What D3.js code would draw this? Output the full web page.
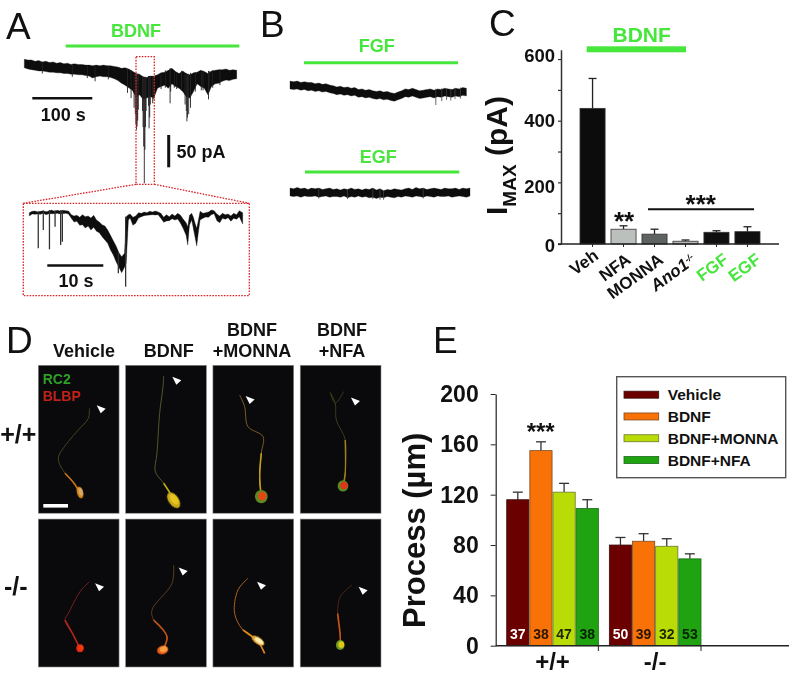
<!DOCTYPE html>
<html>
<head>
<meta charset="utf-8">
<script src="https://cdn.jsdelivr.net/npm/d3@7"></script>
<style>
  body { margin: 0; background: #fff; }
  svg { filter: blur(0.3px); }
  text { font-family: "Liberation Sans", Arial, sans-serif; font-weight: bold; }
</style>
</head>
<body>
<svg id="fig"></svg>
<script>
// panel A, main trace (seconds, pA from start of trace)
const traceATime = [0,6,12,18,24,30,36,42,48,54,60,66,72,78,84,90,96,102,108,114,120,126,132,138,144,150,156,162,168,174,180,186,192,198,204,210,216,222,228,234,240,246,252,258,264,270,276,282,288,294,300,306,312,318,324,330,336,342,348,354];
const traceATop = [0,-1,-1,-3,-2,-4,-3,-5,-4,-6,-5,-7,-6,-8,-7,-8,-8,-9,-9,-10,-9,-10,-9,-10,-10,-11,-12,-14,-13,-15,-18,-22,-23,-27,-28,-26,-26,-24,-21,-20,-17,-14,-19,-22,-18,-22,-24,-21,-20,-17,-19,-22,-18,-17,-16,-16,-15,-17,-16,-17];
const traceABottom = [-13,-15,-16,-17,-18,-18,-19,-20,-20,-21,-21,-22,-22,-23,-23,-24,-24,-25,-26,-29,-27,-26,-27,-27,-28,-30,-33,-37,-40,-44,-48,-58,-55,-62,-60,-58,-60,-45,-42,-40,-45,-38,-42,-45,-50,-58,-60,-50,-38,-42,-45,-55,-42,-38,-37,-34,-32,-33,-31,-30];
const spikesATime = [30,80,105,118,140,172,178,183,185,186,187,188,189,190,197,198,199,200,201,202,203,207,208,209,210,214,216,228,235,243,244,250,254,262,268,270,271,272,274,277,285,295,298,307,308,314,326];
const spikesADepth = [-22,-27,-29,-34,-31,-52,-60,-75,-85,-100,-109,-104,-95,-78,-80,-105,-135,-192,-140,-105,-80,-72,-107,-90,-70,-68,-62,-46,-44,-68,-50,-44,-46,-48,-70,-80,-96,-90,-85,-75,-50,-48,-48,-62,-50,-44,-40];

// panel A, inset (seconds, pA)
const insetTime = [0,0.5,1,1.5,2,2.5,3,3.5,4,4.5,5,5.5,6,6.5,7,7.5,8,8.5,9,9.5,10,10.5,11,11.5,12,12.5,13,13.5,14,14.5,15,15.5,16,16.5,17,17.3,17.7,18,18.5,19,19.5,20,20.5,21,21.5,22,22.5,23,23.5,24,24.5,25,25.5,26,26.5,27,27.5,28,28.3,28.6,29,29.3,29.6,29.9,30.2,30.5,31,31.5,32,32.5,33,33.5,34,34.5,35,35.5,36,36.5,37,37.5,38.1];
const insetTop = [-8,-4,-3,-6,-4,-2,-5,-3,0,-4,-1,-3,-1,-2,-3,-14,-18,-16,-22,-14,-20,-18,-24,-16,-30,-36,-44,-48,-60,-76,-92,-108,-128,-140,-130,-20,-14,-12,-22,-18,-8,-10,-6,-8,-4,-6,-3,-6,-10,-22,-14,-20,-12,-18,-10,-16,-28,-38,-50,-16,-10,-22,-40,-55,-30,-4,-10,-8,-6,0,-2,-12,-18,-10,-14,-12,-18,-10,-14,-2,-8];
const insetBottom = [-18,-12,-13,-12,-13,-10,-14,-11,-11,-11,-10,-12,-11,-10,-12,-25,-36,-34,-46,-44,-54,-48,-60,-52,-64,-68,-80,-90,-100,-120,-135,-155,-172,-188,-172,-160,-30,-24,-46,-40,-24,-20,-17,-16,-15,-14,-15,-14,-25,-37,-33,-32,-26,-30,-27,-40,-56,-76,-105,-46,-30,-56,-82,-108,-66,-30,-25,-21,-22,-14,-11,-32,-38,-25,-28,-23,-34,-25,-28,-20,-42];
const insetSpikeTime = [1.6,2.5,3.6,4.6,5.6,5.9,15.9,17.2];
const insetSpikeDepth = [-115,-60,-118,-50,-105,-95,-190,-230];

// panel B traces
const traceFgfTime = [0,6,12,18,24,30,36,42,48,54,60,66,72,78,84,90,96,102,108,114,120,126,132,138,144,150,156,162,168,174,180,186,192,198,204,210,216,222,228,234,240,246,252,258,264,270,276,282,288,294];
const traceFgfTop = [6,5,6,4,5,4,4,2,3,1,2,0,-1,-3,-2,-4,-3,-5,-4,-7,-6,-8,-7,-9,-10,-9,-11,-10,-12,-13,-11,-9,-6,-7,-5,-7,-9,-8,-7,-6,-8,-6,-7,-5,-6,-7,-5,-6,-4,-5];
const traceFgfBottom = [-6,-7,-6,-8,-7,-9,-8,-10,-9,-11,-10,-12,-13,-15,-14,-16,-15,-17,-16,-19,-18,-20,-19,-21,-22,-21,-23,-22,-24,-25,-23,-21,-18,-19,-17,-19,-21,-20,-19,-18,-20,-18,-19,-17,-18,-19,-17,-18,-16,-17];
const spikesFgfTime = [243,253,261,268,275,284];
const spikesFgfDepth = [-31,-25,-23,-24,-22,-21];
const traceEgfTime = [0,6,12,18,24,30,36,42,48,54,60,66,72,78,84,90,96,102,108,114,120,126,132,138,144,150,156,162,168,174,180,186,192,198,204,210,216,222,228,234,240,246,252,258,264,270,276,282,288,294,300];
const traceEgfTop = [6,5,7,5,6,4,6,5,6,4,5,6,4,5,3,5,4,6,4,5,3,5,4,6,3,5,2,4,3,5,4,3,5,6,4,7,5,6,4,5,6,5,4,6,5,5,6,4,6,5,6];
const traceEgfBottom = [-6,-7,-6,-8,-6,-7,-7,-6,-8,-7,-6,-8,-7,-7,-8,-6,-9,-7,-8,-6,-8,-7,-9,-8,-10,-8,-9,-7,-8,-9,-7,-8,-6,-7,-8,-6,-7,-8,-6,-7,-8,-6,-7,-7,-6,-8,-7,-6,-7,-8,-6];
const spikesEgfTime = [48,96,138,150,156,222];
const spikesEgfDepth = [-10,-11,-11,-12,-12,-10];

// panel C
const drugs = ["Veh", "NFA", "MONNA", "Ano1", "FGF", "EGF"];
const imaxMean = [440, 48, 32, 9, 38, 40];
const imaxTop = [537, 59, 48, 13, 43, 56];
const imaxColors = ["#0c0c0c", "#bcc0bc", "#5e6260", "#b4b7b4", "#101010", "#101010"];
const imaxTicks = [0, 100, 200, 300, 400, 500, 600];

// panel D, cell sketches (panel units)
const cellColumns = ["Vehicle", "BDNF", "BDNF+MONNA", "BDNF+NFA"];
const cellRows = ["+/+", "-/-"];
const cellProcess = [
  [[153,129],[150,159],[120,194],[90,229],[60,279],[80,324],[107,354],[125,384]],
  [[114,32],[112,64],[102,144],[94,264],[89,319],[114,354],[139,394],[144,409]],
  [[80,89],[95,124],[105,184],[150,214],[145,264],[140,334],[145,394]],
  [[130,79],[105,114],[90,82],[105,114],[108,164],[135,224],[135,324],[128,362]],
  [[153,188],[125,218],[90,283],[80,303],[105,348],[125,388]],
  [[144,138],[139,193],[79,273],[84,303],[124,353],[111,393]],
  [[105,178],[75,213],[65,283],[90,333],[135,368],[155,403]],
  [[155,198],[120,233],[112,283],[120,353],[120,378]]
];
const cellProcessColor = ["#44461f", "#55552a", "#7a5c24", "#3c3c1c", "#74202a", "#5c3c1c", "#b0601a", "#4a2418"];
const cellTailColor = ["#c87418", "#bcae18", "#c0a018", "#a08018", "#b0261a", "#c85418", "#dc8a18", "#c85418"];
const cellSomaX = [125,144,145,128,125,111,135,120];
const cellSomaY = [382,405,394,362,388,393,365,378];
const cellSomaRx = [9,15,19,16,11,17,22,13];
const cellSomaRy = [18,27,20,17,12,13,10,15];
const cellSomaAngle = [-15,-35,0,0,0,-15,35,0];
const cellSomaColor = ["#e08a18", "#c8a818", "#5a8a20", "#5a8a20", "#e42c12", "#e85a14", "#e0a030", "#6a9a20"];
const cellCoreColor = ["#d4a868", "#e8c420", "#e04a18", "#e0341c", "#f03a10", "#f0a040", "#fff0b0", "#e0c818"];
const cellTipX = [175,140,98,152,170,159,132,175];
const cellTipY = [120,34,92,97,193,145,188,203];

// panel E
const genotypes = ["+/+", "-/-"];
const treatments = ["Vehicle", "BDNF", "BDNF+MONNA", "BDNF+NFA"];
const treatColors = ["#6b0000", "#f97208", "#b9dc06", "#1fa310"];
const treatEdges = ["#3a1010", "#7a4a20", "#6a7a30", "#1a6a1a"];
const processMean = [[116, 155, 122, 109], [80, 83, 79, 69]];
const processTop = [[122, 162, 129, 116], [86, 89, 85, 73]];
const cellCounts = [[37, 38, 47, 38], [50, 39, 32, 53]];
const countColors = ["#fff", "#2a1500", "#1c2400", "#052005"];
const processTicks = [0, 40, 80, 120, 160, 200];

const green = "#46e63c";
const red = "#d8262a";

const svg = d3.select("#fig").attr("width", 789).attr("height", 682);

const defs = svg.append("defs");
defs.append("filter").attr("id", "soft").append("feGaussianBlur").attr("stdDeviation", 0.4);

function label(txt, x, y, size, color, anchor) {
  return svg.append("text").text(txt)
    .attr("x", x).attr("y", y)
    .style("font-size", size + "px")
    .attr("fill", color || "#111")
    .attr("text-anchor", anchor || "middle");
}
function bar(x1, y1, x2, y2, color, w) {
  return svg.append("line")
    .attr("x1", x1).attr("y1", y1).attr("x2", x2).attr("y2", y2)
    .attr("stroke", color).attr("stroke-width", w);
}
function panelLetter(txt, x, y) {
  label(txt, x, y, 37, "#111", "start").style("font-weight", "normal");
}

// draws a trace from its envelope plus the downward events
function drawTrace(time, top, bottom, spikeT, spikeD, x, y, spikeColor, spikeW) {
  const g = svg.append("g").attr("filter", "url(#soft)");
  const area = d3.area()
    .x((d, i) => x(time[i]))
    .y0((d, i) => y(bottom[i]))
    .y1((d, i) => y(top[i]));
  g.append("path").datum(time).attr("d", area).attr("fill", "#0a0a0a")
    .attr("stroke", "#0a0a0a").attr("stroke-width", 0.3);
  g.selectAll("line.sp").data(spikeT).enter().append("line")
    .attr("x1", d => x(d)).attr("x2", d => x(d))
    // start each event inside the band so it stays attached
    .attr("y1", d => y(top[Math.min(d3.bisectLeft(time, d), time.length - 1)]))
    .attr("y2", (d, i) => y(spikeD[i]))
    .attr("stroke", spikeColor).attr("stroke-width", spikeW);
}

// ---- A
panelLetter("A", 6, 39);
label("BDNF", 136, 37, 18, green);
bar(65.7, 46, 239.3, 46, green, 3);
const xA = d3.scaleLinear().domain([0, 100]).range([24.3, 84.3]);
const yA = d3.scaleLinear().domain([0, -50]).range([59.3, 91.6]);
drawTrace(traceATime, traceATop, traceABottom, spikesATime, spikesADepth, xA, yA, "#222", 0.9);
bar(32.3, 98.3, 92.3, 98.3, "#111", 2.5);
label("100 s", 63.3, 121, 18);
bar(168.7, 135, 168.7, 167.3, "#111", 3);
label("50 pA", 176.5, 158, 18, "#111", "start");

const dotted = svg.append("g").attr("fill", "none").attr("stroke", red)
  .attr("stroke-width", 1.3).attr("stroke-dasharray", "1.6 1.3");
dotted.append("rect").attr("x", 136).attr("y", 56.7).attr("width", 18.3).attr("height", 127.6);
dotted.append("rect").attr("x", 23.3).attr("y", 203.3).attr("width", 226).attr("height", 92.4);
dotted.append("path").attr("d", d3.line()([[136, 184.3], [23.3, 203.3]]));
dotted.append("path").attr("d", d3.line()([[154.3, 184.3], [249.3, 203.3]]));

const xInset = d3.scaleLinear().domain([0, 10]).range([29.3, 85.3]);
const yInset = d3.scaleLinear().domain([0, -230]).range([210, 286.7]);
drawTrace(insetTime, insetTop, insetBottom, insetSpikeTime, insetSpikeDepth, xInset, yInset, "#333", 1.3);
bar(47.3, 265.5, 103.3, 265.5, "#111", 2.5);
label("10 s", 76, 287, 18);

// ---- B
panelLetter("B", 260, 37);
label("FGF", 376.7, 52, 18, green);
bar(304, 62.7, 458, 62.7, green, 3);
const xB = d3.scaleLinear().domain([0, 100]).range([290, 350]);
const yFgf = d3.scaleLinear().domain([0, -50]).range([85, 117.3]);
drawTrace(traceFgfTime, traceFgfTop, traceFgfBottom, spikesFgfTime, spikesFgfDepth, xB, yFgf, "#444", 0.8);
label("EGF", 378.3, 162.5, 18, green);
bar(305, 172, 459.3, 172, green, 3);
const yEgf = d3.scaleLinear().domain([0, -50]).range([192, 224.3]);
drawTrace(traceEgfTime, traceEgfTop, traceEgfBottom, spikesEgfTime, spikesEgfDepth, xB, yEgf, "#444", 0.8);

// ---- C
panelLetter("C", 489, 36);
label("BDNF", 641.7, 42, 21, green);
svg.append("rect").attr("x", 586.7).attr("y", 46.3).attr("width", 99.3).attr("height", 6).attr("fill", green);

const xC = d3.scaleBand().domain(drugs).range([580, 760]).paddingInner(0.19);
const yC = d3.scaleLinear().domain([0, 630]).range([244, 49.8]);
const gC = svg.append("g");
gC.selectAll("line.err").data(drugs).enter().append("line")
  .attr("x1", d => xC(d) + xC.bandwidth() / 2).attr("x2", d => xC(d) + xC.bandwidth() / 2)
  .attr("y1", (d, i) => yC(imaxMean[i])).attr("y2", (d, i) => yC(imaxTop[i]))
  .attr("stroke", "#222").attr("stroke-width", 1.3);
gC.selectAll("line.cap").data(drugs).enter().append("line")
  .attr("x1", d => xC(d) + xC.bandwidth() / 2 - 4).attr("x2", d => xC(d) + xC.bandwidth() / 2 + 4)
  .attr("y1", (d, i) => yC(imaxTop[i])).attr("y2", (d, i) => yC(imaxTop[i]))
  .attr("stroke", "#222").attr("stroke-width", 1.3);
gC.selectAll("rect").data(drugs).enter().append("rect")
  .attr("x", d => xC(d)).attr("width", xC.bandwidth())
  .attr("y", (d, i) => yC(imaxMean[i]))
  .attr("height", (d, i) => yC(0) - yC(imaxMean[i]))
  .attr("fill", (d, i) => imaxColors[i])
  .attr("stroke", "#333").attr("stroke-width", 0.8);

const axisCY = svg.append("g").attr("transform", "translate(561,0)")
  .call(d3.axisLeft(yC).tickValues(imaxTicks).tickSize(3).tickSizeOuter(0)
    .tickFormat(d => d % 200 === 0 ? d : ""));
axisCY.select(".domain").attr("stroke", "#333").attr("stroke-width", 1.5);
axisCY.selectAll("line").attr("stroke", "#333").attr("stroke-width", 1.2);
// the labels sit a little off their ticks in the figure
axisCY.selectAll("text").style("font-size", "18.5px").attr("fill", "#111")
  .attr("dy", d => d === 600 ? "0.12em" : d === 200 ? "0.55em" : d === 0 ? "0.42em" : "0.32em");

const axisCX = svg.append("g").attr("transform", "translate(0,244)")
  .call(d3.axisBottom(xC).tickSize(3).tickSizeOuter(0));
axisCX.select(".domain").remove();
axisCX.selectAll("line").attr("stroke", "#222");
axisCX.selectAll("text")
  .style("font-size", "17px")
  .attr("text-anchor", "end")
  .attr("x", 0).attr("y", 0).attr("dy", 0)
  .attr("transform", (d, i) => `translate(${7 + i * 1.5},${i === 0 ? 14 : 18}) rotate(-36)`)
  .attr("fill", (d, i) => i > 3 ? green : "#111");
// the knockout label is italic with a small superscript
axisCX.selectAll("text").filter(d => d === "Ano1")
  .style("font-style", "italic")
  .append("tspan").text("-/-").attr("dy", -5).style("font-size", "9px");
bar(558, 244, 779, 244, "#222", 1.6);

const imaxLabel = svg.append("text").attr("transform", "translate(507,215) rotate(-90)").attr("fill", "#111");
imaxLabel.append("tspan").text("I").style("font-size", "30px");
imaxLabel.append("tspan").text("MAX").style("font-size", "19px").attr("dy", 9);
imaxLabel.append("tspan").text(" (pA)").style("font-size", "30px").attr("dy", -9);

label("**", 624, 230, 26);
bar(648, 209.3, 754, 209.3, "#111", 2);
label("***", 700.7, 212.5, 26);

// ---- D
panelLetter("D", 6, 353);
const xD = d3.scaleBand().domain(cellColumns).range([38.3, 381]).paddingInner(0.075);
const yD = d3.scaleBand().domain(cellRows).range([365.3, 667]).paddingInner(0.038);
const headX = [84, 168.7, 252, 342];
label("Vehicle", headX[0], 357, 18);
label("BDNF", headX[1], 357, 18);
label("BDNF", headX[2], 336, 18);
label("+MONNA", headX[2], 357, 18);
label("BDNF", headX[3], 336, 18);
label("+NFA", headX[3], 357, 18);
label("+/+", 18.3, 443, 25);
label("-/-", 15.7, 595, 25);

const cellLine = d3.line().curve(d3.curveCatmullRom);
cellRows.forEach((row, r) => {
  cellColumns.forEach((col, c) => {
    const k = r * 4 + c;
    const px = d3.scaleLinear().domain([0, 242]).range([xD(col), xD(col) + xD.bandwidth()]);
    const py = d3.scaleLinear().domain([0, 444]).range([yD(row), yD(row) + yD.bandwidth()]);
    const g = svg.append("g");
    g.append("rect")
      .attr("x", xD(col)).attr("y", yD(row))
      .attr("width", xD.bandwidth()).attr("height", yD.bandwidth())
      .attr("fill", "#0a0a0c").attr("stroke", "#8a8a8a").attr("stroke-width", 0.6);
    const pts = cellProcess[k].map(p => [px(p[0]), py(p[1])]);
    g.append("path").attr("d", cellLine(pts)).attr("fill", "none")
      .attr("stroke", cellProcessColor[k]).attr("stroke-width", 1)
      .attr("filter", "url(#soft)");
    g.append("path").attr("d", cellLine(pts.slice(-3))).attr("fill", "none")
      .attr("stroke", cellTailColor[k]).attr("stroke-width", 1.6)
      .attr("filter", "url(#soft)");
    const cx = px(cellSomaX[k]), cy = py(cellSomaY[k]);
    g.append("ellipse")
      .attr("cx", cx).attr("cy", cy)
      .attr("rx", cellSomaRx[k] / 3).attr("ry", cellSomaRy[k] / 3)
      .attr("transform", `rotate(${cellSomaAngle[k]},${cx},${cy})`)
      .attr("fill", cellSomaColor[k]).attr("filter", "url(#soft)");
    // bright core sits off centre, as in the stained cells
    g.append("ellipse")
      .attr("cx", cx + 1).attr("cy", cy - 0.5)
      .attr("rx", cellSomaRx[k] / 4.5).attr("ry", cellSomaRy[k] / 4.5)
      .attr("transform", `rotate(${cellSomaAngle[k]},${cx},${cy})`)
      .attr("fill", cellCoreColor[k]).attr("filter", "url(#soft)");
    const tip = [px(cellTipX[k]), py(cellTipY[k])];
    g.append("path")
      .attr("d", d3.line()([tip, [tip[0] + 9, tip[1] + 3.5], [tip[0] + 4, tip[1] + 8]]) + "Z")
      .attr("fill", "#fff");
  });
});
label("RC2", 42.7, 384, 14, "#2f9f28", "start");
label("BLBP", 42.7, 400.7, 14, "#c3201a", "start");
svg.append("rect").attr("x", 43.3).attr("y", 504).attr("width", 24.7).attr("height", 3.6).attr("fill", "#fff");

// ---- E
panelLetter("E", 433, 353);
const x0 = d3.scaleBand().domain(genotypes).range([506.7, 701]).paddingInner(0.107);
const x1 = d3.scaleBand().domain(treatments).range([0, x0.bandwidth()]).paddingInner(0.04);
const yE = d3.scaleLinear().domain([0, 200]).range([645.7, 394]);

genotypes.forEach((g, gi) => {
  const grp = svg.append("g").attr("transform", `translate(${x0(g)},0)`);
  const mid = d => x1(d) + x1.bandwidth() / 2;
  grp.selectAll("line.err").data(treatments).enter().append("line")
    .attr("x1", mid).attr("x2", mid)
    .attr("y1", (d, i) => yE(processMean[gi][i])).attr("y2", (d, i) => yE(processTop[gi][i]))
    .attr("stroke", "#333").attr("stroke-width", 1.3);
  grp.selectAll("line.cap").data(treatments).enter().append("line")
    .attr("x1", d => mid(d) - 5).attr("x2", d => mid(d) + 5)
    .attr("y1", (d, i) => yE(processTop[gi][i])).attr("y2", (d, i) => yE(processTop[gi][i]))
    .attr("stroke", "#333").attr("stroke-width", 1.3);
  grp.selectAll("rect").data(treatments).enter().append("rect")
    .attr("x", d => x1(d)).attr("width", x1.bandwidth())
    .attr("y", (d, i) => yE(processMean[gi][i]))
    .attr("height", (d, i) => yE(0) - yE(processMean[gi][i]))
    .attr("fill", (d, i) => treatColors[i])
    .attr("stroke", (d, i) => treatEdges[i]).attr("stroke-width", 0.8);
  grp.selectAll("text").data(treatments).enter().append("text")
    .text((d, i) => cellCounts[gi][i])
    .attr("x", mid).attr("y", 639)
    .attr("text-anchor", "middle")
    .style("font-size", "14px")
    .attr("fill", (d, i) => countColors[i]);
});

const axisEY = svg.append("g").attr("transform", "translate(495.7,0)")
  .call(d3.axisLeft(yE).tickValues(processTicks).tickSize(5).tickSizeOuter(0).tickPadding(12));
axisEY.select(".domain").attr("stroke", "#222").attr("stroke-width", 1.2);
axisEY.selectAll("line").attr("stroke", "#222");
axisEY.selectAll("text").style("font-size", "23px").attr("fill", "#111");
bar(495.7, 645.7, 789, 645.7, "#222", 1.6);
genotypes.forEach(g => {
  bar(x0(g) + x0.bandwidth(), 645.7, x0(g) + x0.bandwidth(), 651, "#222", 1);
  label(g, x0(g) + x0.bandwidth() / 2, 670, 24);
});
label("***", 540.7, 440, 24);

svg.append("text").attr("transform", "translate(425,628) rotate(-90)")
  .text("Process (µm)").style("font-size", "31px").attr("fill", "#111");

const legend = svg.append("g");
legend.append("rect").attr("x", 616.7).attr("y", 376.7).attr("width", 169).attr("height", 101)
  .attr("fill", "#fff").attr("stroke", "#555").attr("stroke-width", 1.4);
const yLegend = d3.scalePoint().domain(treatments).range([394.7, 460]);
legend.selectAll("rect.sw").data(treatments).enter().append("rect")
  .attr("x", 624).attr("width", 34.7).attr("height", 7)
  .attr("y", d => yLegend(d) - 3.5)
  .attr("fill", (d, i) => treatColors[i])
  .attr("stroke", (d, i) => treatEdges[i]).attr("stroke-width", 0.8);
legend.selectAll("text").data(treatments).enter().append("text")
  .text(d => d)
  .attr("x", 667.7).attr("y", d => yLegend(d) + 5.5)
  .style("font-size", "15.5px").attr("fill", "#111");
</script>
</body>
</html>
